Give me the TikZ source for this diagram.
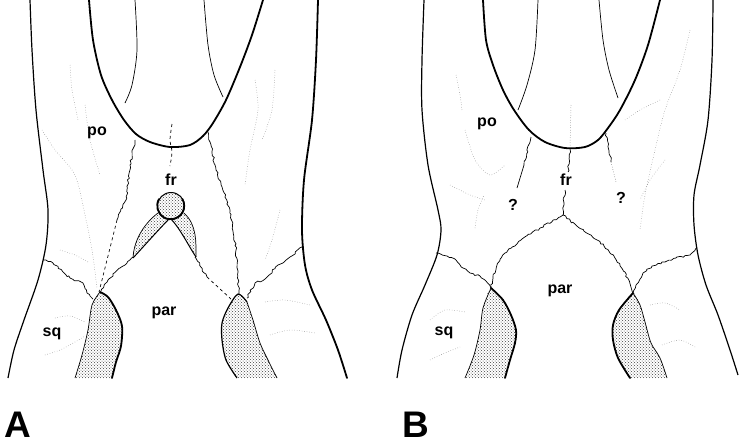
\documentclass[tikz,border=0pt]{standalone}
\usepackage{fontspec}
\setsansfont{Liberation Sans}
\usetikzlibrary{decorations.pathmorphing,patterns}

\begin{document}
\begin{tikzpicture}[x=1pt, y=-1pt,
    outline/.style={line width=1.2pt, line join=round},
    heavy/.style={line width=1.8pt, line join=round, line cap=round},
    fine/.style={line width=0.7pt},
    suture/.style={line width=0.7pt, line join=round, decorate, decoration={random steps, segment length=2.6pt, amplitude=1pt}},
    faint/.style={black!50, line width=0.5pt, dotted},
    stipple/.style={pattern=crosshatch dots, pattern color=black!75},
    lbl/.style={font=\sffamily\bfseries\fontsize{16}{16}\selectfont, inner sep=0pt, anchor=base},
    panel/.style={font=\sffamily\bfseries\fontsize{37}{37}\selectfont, inner sep=0pt, anchor=base}]
    \pgfmathsetseed{12}
    \useasboundingbox (0,0) rectangle (743,445);

    % ---------- Panel A ----------
    % Outlines
    \draw [outline] plot [smooth] coordinates {(30,0) (32,50) (36,110) (43,170) (48,210) (46,245) (38,280) (24,320) (14,350) (8,378)};
    \draw [heavy] plot [smooth] coordinates {(318,0) (316,60) (312,120) (304,180) (302,230) (305,265) (312,290) (326,320) (338,350) (347,378)};
    \draw [heavy] plot [smooth] coordinates {(89,0) (93,40) (101,75) (112,100) (124,120) (136,134) (150,142) (170,147) (190,145) (203,136) (213,123) (226,100) (240,67) (252,35) (263,0)};
    \draw [fine] plot [smooth] coordinates {(135,0) (137,50) (132,85) (125,103)};
    \draw [fine] plot [smooth] coordinates {(204,0) (208,45) (214,75) (223,97)};

    % Sutures
    \draw [fine, dashed] plot [smooth] coordinates {(172,124) (170,140) (172,152) (170,166)};
    \draw [suture] plot coordinates {(135,140) (130,165) (126,200) (117,220)};
    \draw [fine, dashed] (117,220) -- (99,292);
    \draw [suture] plot coordinates {(208,132) (216,170) (230,210) (236,250) (239,294)};
    \draw [suture] plot coordinates {(43,260) (53,263) (63,272) (70,278) (83,283) (87,293) (93,299)};
    \draw [suture] plot coordinates {(302,247) (290,257) (278,265) (265,279) (255,283) (247,298)};
    \draw [suture] plot coordinates {(101,291) (108,280) (120,268) (133,257)};
    \draw [suture] (195,257) -- (207,277);
    \draw [fine, dashed] (207,277) -- (231,299);

    % Stippled pieces
    \path [stipple] (133,258) .. controls (134,238) and (146,222) .. (158,213)
        -- (184,213) .. controls (197,225) and (196,242) .. (196,257)
        .. controls (188,245) and (180,228) .. (170,218)
        .. controls (160,228) and (145,245) .. (133,258);
    \draw [fine] (133,258) .. controls (134,238) and (146,222) .. (158,213);
    \draw [fine] (184,213) .. controls (197,225) and (196,242) .. (196,257);
    \draw [line width=1pt] (196,257) .. controls (188,245) and (180,228) .. (170,218)
        .. controls (160,228) and (145,245) .. (133,258);
    \fill [white] (171,206) circle (13.5);
    \path [stipple] (171,206) circle (13.5);
    \draw [line width=1pt] (171,206) circle (13.5);
    \draw [heavy] (159,199) arc (210:-30:13.5);

    \path [stipple] plot [smooth] coordinates {(75,378) (82,355) (88,330) (92,305) (100,292) (108,297) (116,310) (122,326) (121,346) (116,362) (112,378)} -- cycle;
    \draw [fine] plot [smooth] coordinates {(75,378) (82,355) (88,330) (92,305) (100,292)};
    \draw [heavy] plot [smooth] coordinates {(100,292) (108,297) (116,310) (122,326) (121,346) (116,362) (112,378)};
    \path [stipple] plot [smooth] coordinates {(237,378) (226,360) (222,340) (222,323) (228,308) (238,294) (247,302) (253,320) (260,343) (268,360) (277,378)} -- cycle;
    \draw [outline] plot [smooth] coordinates {(237,378) (226,360) (222,340) (222,323) (228,308) (238,294) (247,302)};
    \draw [fine] plot [smooth] coordinates {(247,302) (253,320) (260,343) (268,360) (277,378)};

    % Faint surface lines
    \draw [faint] plot [smooth] coordinates {(70,65) (72,90) (78,120)};
    \draw [faint] plot [smooth] coordinates {(42,130) (55,150) (75,175) (85,215) (92,250) (97,288)};
    \draw [faint] plot [smooth] coordinates {(85,105) (90,140) (100,175)};
    \draw [faint] plot [smooth] coordinates {(60,250) (75,255) (88,262)};
    \draw [faint] plot [smooth] coordinates {(55,318) (70,316) (85,322)};
    \draw [faint] plot [smooth] coordinates {(45,355) (60,350) (75,342) (85,336)};
    \draw [faint] plot [smooth] coordinates {(255,80) (258,110) (250,150) (245,185)};
    \draw [faint] plot [smooth] coordinates {(275,70) (272,110) (262,140)};
    \draw [faint] plot [smooth] coordinates {(280,210) (272,240) (265,260)};
    \draw [faint] plot [smooth] coordinates {(265,302) (285,300) (310,305)};
    \draw [faint] plot [smooth] coordinates {(270,335) (290,330) (315,333)};

    % Labels
    \node [lbl] (poA)  at (97,135)  {po};
    \node [lbl] (frA)  at (171,185) {fr};
    \node [lbl] (parA) at (164,315) {par};
    \node [lbl] (sqA)  at (52,336)  {sq};
    \node [panel] (A)  at (18,437)  {A};

    % ---------- Panel B ----------
    % Outlines
    \draw [outline] plot [smooth] coordinates {(424,0) (422,60) (422,110) (428,165) (438,210) (441,230) (437,255) (425,285) (412,315) (402,350) (397,378)};
    \draw [outline] plot [smooth] coordinates {(713,0) (712,60) (708,120) (700,165) (694,195) (694,225) (698,255) (706,285) (718,315) (730,350) (738,375)};
    \draw [heavy] plot [smooth] coordinates {(483,0) (486,40) (493,65) (503,90) (514,110) (529,130) (545,142) (565,148) (585,147) (598,140) (608,128) (620,110) (635,80) (648,45) (660,0)};
    \draw [fine] plot [smooth] coordinates {(538,0) (535,50) (527,85) (518,110)};
    \draw [fine] plot [smooth] coordinates {(599,0) (603,40) (609,70) (618,98)};

    % Sutures
    \draw [faint, black!60] (571,105) -- (570,148);
    \draw [suture] (570,149) -- (568,172);
    \draw [suture] (565,190) -- (563,215);
    \draw [suture] (531,137) -- (524,165);
    \draw [fine] (524,165) -- (517,188);
    \draw [suture] (606,133) -- (611,162);
    \draw [faint, black!70] (611,162) -- (616,182);
    \draw [suture] plot coordinates {(563,215) (540,228) (521,240) (505,253) (497,265) (493,278) (491,288)};
    \draw [suture] plot coordinates {(563,215) (578,227) (591,235) (604,246) (615,258) (625,272) (633,293)};
    \draw [suture] plot coordinates {(436,253) (447,256) (456,260) (463,268) (470,273) (480,276) (486,281) (491,288)};
    \draw [suture] plot coordinates {(696,248) (690,255) (676,258) (665,262) (652,266) (643,273) (636,285) (633,293)};

    % Stippled pieces
    \path [stipple] plot [smooth] coordinates {(465,378) (474,355) (480,330) (483,308) (491,288) (503,300) (511,315) (516,330) (515,343) (510,360) (505,378)} -- cycle;
    \draw [fine] plot [smooth] coordinates {(465,378) (474,355) (480,330) (483,308) (491,288)};
    \draw [heavy] plot [smooth] coordinates {(491,288) (503,300) (511,315) (516,330) (515,343) (510,360) (505,378)};
    \path [stipple] plot [smooth] coordinates {(630,378) (618,358) (613,340) (613,325) (619,310) (633,293) (640,305) (645,322) (651,343) (660,358) (667,378)} -- cycle;
    \draw [heavy] plot [smooth] coordinates {(630,378) (618,358) (613,340) (613,325) (619,310) (633,293)};
    \draw [fine] plot [smooth] coordinates {(633,293) (640,305) (645,322) (651,343) (660,358) (667,378)};

    % Faint surface lines
    \draw [faint] plot [smooth] coordinates {(456,75) (460,95) (462,110)};
    \draw [faint] plot [smooth] coordinates {(465,130) (475,160) (490,175) (505,165)};
    \draw [faint] plot [smooth] coordinates {(450,185) (470,195) (485,200)};
    \draw [faint] plot [smooth] coordinates {(475,228) (478,210) (484,195)};
    \draw [faint] plot [smooth] coordinates {(690,30) (680,70) (665,110) (655,150) (645,195) (640,230)};
    \draw [faint] plot [smooth] coordinates {(660,100) (640,110) (625,120)};
    \draw [faint] plot [smooth] coordinates {(665,160) (650,180) (640,200)};
    \draw [faint] plot [smooth] coordinates {(430,320) (445,310) (465,312)};
    \draw [faint] plot [smooth] coordinates {(430,360) (445,353) (460,347)};
    \draw [faint] plot [smooth] coordinates {(650,305) (665,303) (680,310)};
    \draw [faint] plot [smooth] coordinates {(662,345) (680,340) (695,347)};

    % Labels
    \node [lbl] (poB)  at (487,126) {po};
    \node [lbl] (frB)  at (566,185) {fr};
    \node [lbl] (parB) at (560,293) {par};
    \node [lbl] (sqB)  at (444,335) {sq};
    \node [lbl] (qL)   at (513,210) {?};
    \node [lbl] (qR)   at (621,203) {?};
    \node [panel] (B)  at (416,437) {B};
\end{tikzpicture}
\end{document}
